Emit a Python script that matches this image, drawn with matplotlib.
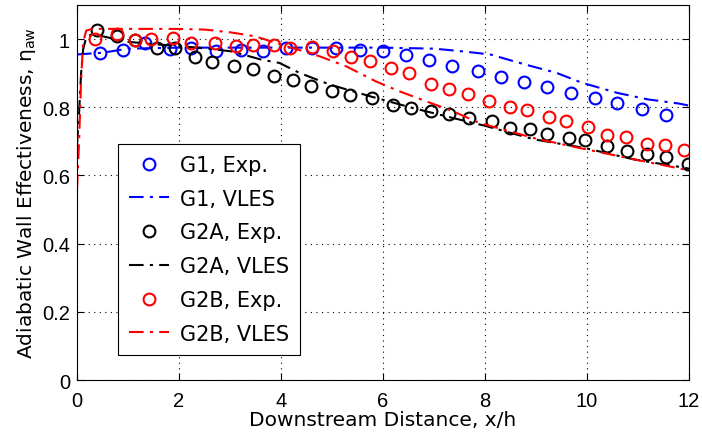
import matplotlib
matplotlib.use("Agg")
import matplotlib.pyplot as plt

plt.rcParams['font.family'] = ['Liberation Sans', 'DejaVu Sans']
plt.rcParams['mathtext.fontset'] = 'custom'
plt.rcParams['mathtext.rm'] = 'DejaVu Sans'
plt.rcParams['mathtext.it'] = 'DejaVu Sans:italic'

# ---- data ----
g1_exp_x = [0.45, 0.91, 1.33, 1.82, 2.24, 2.73, 3.22, 3.65, 4.10, 4.60, 5.08, 5.54, 6.00,
            6.45, 6.91, 7.35, 7.87, 8.32, 8.77, 9.21, 9.68, 10.15, 10.59, 11.08, 11.55]
g1_exp_y = [0.960, 0.969, 0.989, 0.971, 0.974, 0.964, 0.969, 0.964, 0.974, 0.975, 0.974, 0.969, 0.964,
            0.952, 0.938, 0.922, 0.906, 0.889, 0.874, 0.859, 0.842, 0.826, 0.813, 0.796, 0.777]

g1_les_x = [0.0, 0.5, 1.0, 2.0, 3.0, 4.0, 5.0, 6.0, 7.0, 7.5, 8.1, 8.8, 9.4, 9.9, 10.6, 11.2, 11.8, 12.0]
g1_les_y = [0.955, 0.960, 0.972, 0.975, 0.975, 0.975, 0.975, 0.975, 0.972, 0.965, 0.955, 0.925, 0.901,
            0.872, 0.842, 0.823, 0.811, 0.805]

g2a_exp_x = [0.39, 0.78, 1.13, 1.56, 1.92, 2.31, 2.65, 3.07, 3.45, 3.86, 4.23, 4.59, 5.00, 5.36, 5.79,
             6.19, 6.55, 6.94, 7.30, 7.69, 8.13, 8.49, 8.88, 9.21, 9.65, 9.97, 10.39, 10.79, 11.18,
             11.54, 11.98]
g2a_exp_y = [1.028, 1.010, 0.998, 0.974, 0.974, 0.947, 0.933, 0.920, 0.912, 0.893, 0.881, 0.862, 0.849,
             0.837, 0.826, 0.808, 0.798, 0.789, 0.779, 0.769, 0.759, 0.740, 0.735, 0.722, 0.709, 0.703,
             0.686, 0.673, 0.662, 0.655, 0.635]

g2a_les_x = [0.0, 0.04, 0.08, 0.12, 0.18, 0.3, 0.6, 1.0, 1.6, 2.0, 2.57, 3.03, 3.61, 3.97, 4.36, 4.95,
             5.73, 6.58, 7.36, 8.02, 8.96, 9.94, 10.92, 11.9, 12.0]
g2a_les_y = [0.69, 0.78, 0.90, 0.97, 1.005, 1.015, 1.005, 0.992, 0.984, 0.980, 0.972, 0.964, 0.940,
             0.930, 0.901, 0.867, 0.833, 0.798, 0.769, 0.745, 0.706, 0.681, 0.647, 0.623, 0.620]

g2b_exp_x = [0.35, 0.78, 1.13, 1.45, 1.88, 2.24, 2.70, 3.12, 3.46, 3.86, 4.17, 4.61, 5.02, 5.38, 5.75,
             6.16, 6.50, 6.94, 7.30, 7.66, 8.08, 8.49, 8.83, 9.26, 9.58, 10.01, 10.39, 10.76, 11.18,
             11.52, 11.91]
g2b_exp_y = [1.000, 1.016, 0.997, 1.000, 1.003, 0.990, 0.990, 0.981, 0.984, 0.984, 0.974, 0.977, 0.964,
             0.947, 0.937, 0.915, 0.901, 0.867, 0.855, 0.840, 0.818, 0.800, 0.791, 0.772, 0.761, 0.742,
             0.718, 0.712, 0.693, 0.688, 0.676]

g2b_les_x = [0.0, 0.04, 0.08, 0.12, 0.18, 0.3, 1.0, 1.9, 2.5, 3.0, 3.5, 4.0, 4.75, 5.28, 5.86, 6.32,
             6.84, 7.36, 7.89, 9.0, 10.0, 11.0, 12.0]
g2b_les_y = [0.56, 0.70, 0.88, 0.99, 1.025, 1.030, 1.030, 1.030, 1.028, 1.020, 1.008, 0.984, 0.950,
             0.920, 0.876, 0.847, 0.818, 0.789, 0.754, 0.708, 0.676, 0.645, 0.615]

labels = ['G1, Exp.', 'G1, VLES', 'G2A, Exp.', 'G2A, VLES', 'G2B, Exp.', 'G2B, VLES']
xticks = [0, 2, 4, 6, 8, 10, 12]
yticks = [0, 0.2, 0.4, 0.6, 0.8, 1]

# ---- plot ----
fig = plt.figure(figsize=(7.02, 4.39), dpi=100)
ax = fig.add_axes([0.1097, 0.1321, 0.8718, 0.8542])

dash = (0, (7, 3, 1.5, 3))
ms = 8.5
ax.plot(g1_exp_x, g1_exp_y, 'o', mfc='none', mec='blue', mew=1.5, ms=ms, label=labels[0])
ax.plot(g1_les_x, g1_les_y, color='blue', ls=dash, lw=1.5, label=labels[1])
ax.plot(g2a_exp_x, g2a_exp_y, 'o', mfc='none', mec='black', mew=1.5, ms=ms, label=labels[2])
ax.plot(g2a_les_x, g2a_les_y, color='black', ls=dash, lw=1.5, label=labels[3])
ax.plot(g2b_exp_x, g2b_exp_y, 'o', mfc='none', mec='red', mew=1.5, ms=ms, label=labels[4])
ax.plot(g2b_les_x, g2b_les_y, color='red', ls=dash, lw=1.5, label=labels[5])

ax.set_xlim(0, 12)
ax.set_ylim(0, 1.1)
ax.set_xticks(xticks)
ax.set_yticks(yticks)
ax.set_xticklabels([str(t) for t in xticks])
ax.set_yticklabels(['0', '0.2', '0.4', '0.6', '0.8', '1'])
ax.tick_params(direction='in', top=True, right=True, labelsize=14.5, length=5, width=0.8)
ax.tick_params(axis='x', pad=8)
ax.tick_params(axis='y', pad=5)
ax.grid(True, color='black', linestyle=(0, (1, 4)), linewidth=0.8)
for s in ax.spines.values():
    s.set_linewidth(0.8)

ax.set_xlabel('Downstream Distance, x/h', fontsize=14.5, family=['DejaVu Sans'], labelpad=0)
ax.set_ylabel(r'Adiabatic Wall Effectiveness, $\mathrm{\eta_{aw}}$', fontsize=14.5,
              family=['DejaVu Sans'], labelpad=3)

leg = ax.legend(loc='upper left', bbox_to_anchor=(0.067, 0.629), borderaxespad=0,
                prop={'family': 'DejaVu Sans', 'size': 15}, frameon=True,
                fancybox=False, edgecolor='black', framealpha=1, handlelength=1.92,
                handletextpad=0.53, labelspacing=0.66, borderpad=0.52)
leg.get_frame().set_linewidth(0.8)

fig.savefig('out.png', dpi=100)
